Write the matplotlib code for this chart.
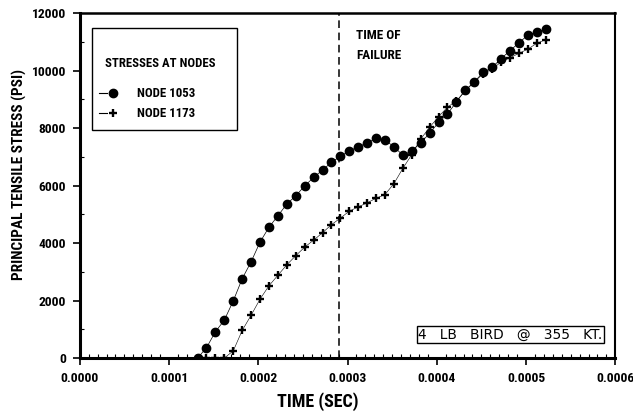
import matplotlib
matplotlib.use("Agg")
import matplotlib.pyplot as plt
from matplotlib.ticker import MultipleLocator, FormatStrFormatter

# Node 1053 (circles)
t_1053 = [0.000132, 0.000142, 0.000152, 0.000162, 0.000172, 0.000182, 0.000192, 0.000202,
          0.000212, 0.000222, 0.000232, 0.000242, 0.000252, 0.000262, 0.000272, 0.000282,
          0.000292, 0.000302, 0.000312, 0.000322, 0.000332, 0.000342, 0.000352, 0.000362,
          0.000372, 0.000382, 0.000392, 0.000402, 0.000412, 0.000422, 0.000432, 0.000442,
          0.000452, 0.000462, 0.000472, 0.000482, 0.000492, 0.000502, 0.000512, 0.000522]
s_1053 = [0, 360, 915, 1320, 1990, 2760, 3350, 4035,
          4550, 4950, 5360, 5645, 5990, 6285, 6540, 6810,
          7020, 7210, 7350, 7490, 7640, 7590, 7350, 7060,
          7210, 7490, 7820, 8200, 8490, 8915, 9320, 9610,
          9940, 10110, 10420, 10690, 10970, 11235, 11340, 11440]

# Node 1173 (plus signs)
t_1173 = [0.000142, 0.000152, 0.000162, 0.000172, 0.000182, 0.000192, 0.000202,
          0.000212, 0.000222, 0.000232, 0.000242, 0.000252, 0.000262, 0.000272, 0.000282,
          0.000292, 0.000302, 0.000312, 0.000322, 0.000332, 0.000342, 0.000352, 0.000362,
          0.000372, 0.000382, 0.000392, 0.000402, 0.000412, 0.000422, 0.000432, 0.000442,
          0.000452, 0.000462, 0.000472, 0.000482, 0.000492, 0.000502, 0.000512, 0.000522]
s_1173 = [0, 0, 0, 250, 960, 1490, 2050,
          2515, 2880, 3245, 3560, 3860, 4100, 4360, 4640,
          4870, 5110, 5260, 5400, 5560, 5690, 6070, 6600,
          7080, 7620, 8030, 8400, 8730, 8950, 9300, 9600,
          9900, 10050, 10300, 10450, 10600, 10750, 10950, 11080]

t_failure = 0.00029

fams = ['Roboto Condensed', 'Liberation Sans', 'DejaVu Sans']
bold = dict(family=fams, weight='bold')

fig = plt.figure(figsize=(6.33, 4.12), dpi=100)
ax = fig.add_axes([0.126, 0.131, 0.846, 0.837])

ax.plot(t_1053, s_1053, '-', color='black', lw=0.5, marker='o', ms=6, mfc='black', mec='black')
ax.plot(t_1173, s_1173, '-', color='black', lw=0.4, marker='+', ms=5.5, mew=1.7)
ax.axvline(t_failure, color='black', lw=1.1, ls=(0, (5, 3)))

ax.set_xlim(0, 0.0006)
ax.set_ylim(0, 12000)
ax.xaxis.set_major_locator(MultipleLocator(0.0001))
ax.xaxis.set_minor_locator(MultipleLocator(0.00001))
ax.yaxis.set_major_locator(MultipleLocator(2000))
ax.yaxis.set_minor_locator(MultipleLocator(1000))
ax.xaxis.set_major_formatter(FormatStrFormatter('%.4f'))
ax.tick_params(which='major', direction='out', length=5, width=1.2, pad=5)
ax.tick_params(which='minor', direction='in', length=3, width=0.8)
for lab in ax.get_xticklabels() + ax.get_yticklabels():
    lab.set_fontsize(9.7)
    lab.set_fontweight('bold')
    lab.set_family(fams)

for side, w in [('left', 2.2), ('bottom', 2.2), ('top', 1.8), ('right', 1.5)]:
    ax.spines[side].set_linewidth(w)

ax.set_xlabel('TIME (SEC)', fontsize=13, **bold)
ax.xaxis.set_label_coords(0.445, -0.1)
ax.set_ylabel('PRINCIPAL TENSILE STRESS (PSI)', fontsize=11, **bold)
ax.yaxis.set_label_coords(-0.098, 0.533)

ax.text(t_failure + 0.0000195, 11450, 'TIME OF\nFAILURE', fontsize=9.5, va='top',
        linespacing=1.75, **bold)

# legend box drawn by hand like the original
ax.add_patch(plt.Rectangle((0.022, 0.661), 0.271, 0.296, transform=ax.transAxes,
                           fill=False, lw=1.0, color='black'))
ax.text(0.048, 0.855, 'STRESSES AT NODES', transform=ax.transAxes, fontsize=9.2,
        va='center', **bold)
ax.plot([0.035, 0.05], [0.768, 0.768], transform=ax.transAxes, color='black', lw=0.8)
ax.plot([0.062], [0.768], transform=ax.transAxes, marker='o', ms=6, color='black')
ax.plot([0.035, 0.05], [0.71, 0.71], transform=ax.transAxes, color='black', lw=0.8)
ax.plot([0.062], [0.71], transform=ax.transAxes, marker='+', ms=5.5, mew=1.7, color='black')
ax.text(0.106, 0.768, 'NODE 1053', transform=ax.transAxes, fontsize=9.3, va='center', **bold)
ax.text(0.106, 0.71, 'NODE 1173', transform=ax.transAxes, fontsize=9.3, va='center', **bold)

ax.text(0.804, 0.068, '4   LB   BIRD   @   355   KT.', transform=ax.transAxes, fontsize=9.9,
        ha='center', va='center', family=['DejaVu Sans'],
        bbox=dict(boxstyle='square,pad=0.12', fc='white', ec='black', lw=1.0))

fig.savefig('out.png', dpi=100)
